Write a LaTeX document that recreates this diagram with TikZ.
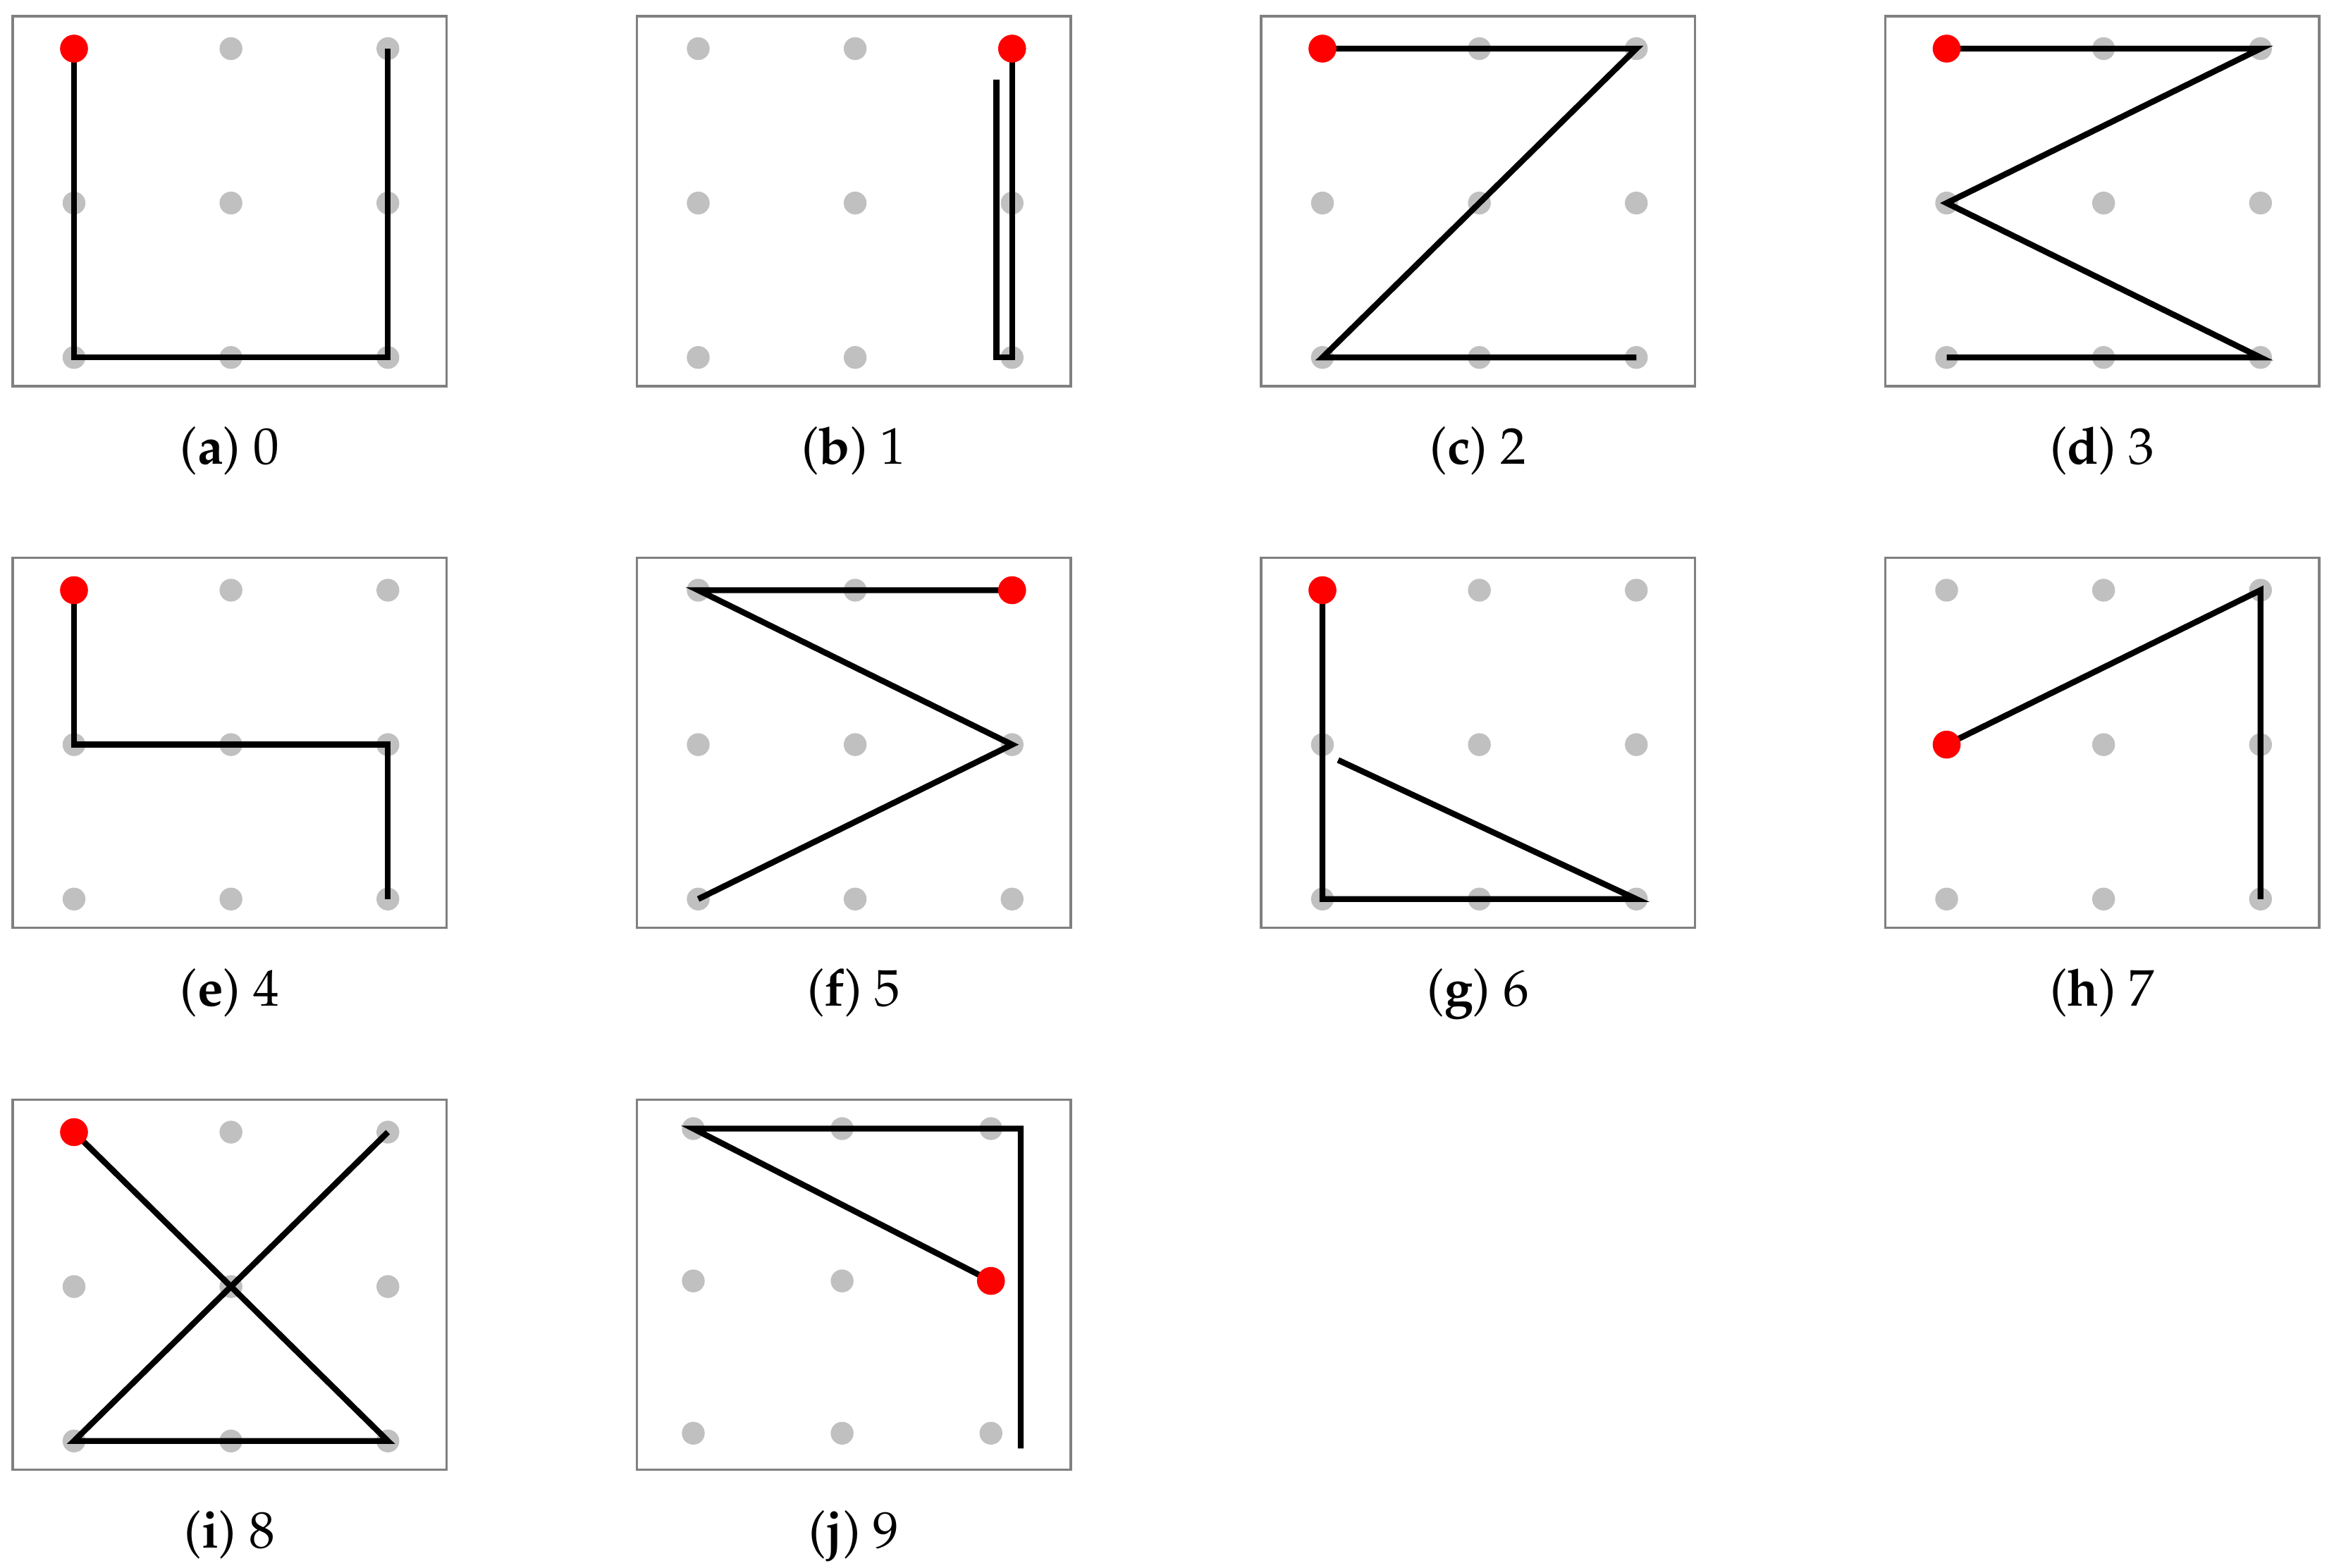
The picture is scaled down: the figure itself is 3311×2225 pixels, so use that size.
\documentclass[tikz,border=0pt]{standalone}
\usepackage[T1]{fontenc}
\usepackage{mathpazo}
\definecolor{dotgray}{RGB}{192,192,192}
\definecolor{framegray}{RGB}{128,128,128}
\tikzset{
  framebox/.style={draw=framegray, line width=0.036cm},
  stroke/.style={draw=black, line width=0.084cm, line join=miter, line cap=butt, miter limit=10},
  griddot/.style={fill=dotgray},
  startdot/.style={fill=red},
  caption/.style={anchor=base, inner sep=0pt, font=\fontsize{20.8}{25}\selectfont},
  stdgrid/.style={shift={(87,46)}, x=2.225cm, y=-2.19cm},
  jgrid/.style={shift={(80,41)}, x=2.11cm, y=-2.16cm}
}
% #1 grid style, #2 caption node name, #3 frame x, #4 frame y, #5 letter, #6 digit, #7 path, #8 start point
\newcommand{\gpanel}[8][stdgrid]{%
  \begin{scope}[shift={(#3,#4)}]
    \draw[framebox] (0,0) rectangle (615.5,525);
    \node[caption] (#2) at (307.75,636) {(\textbf{#5}) #6};
    \begin{scope}[#1]
      \foreach \i in {0,1,2} {\foreach \j in {0,1,2} {\fill[griddot] (\i,\j) circle[radius=0.162cm];}}
      \draw[stroke] #7;
      \fill[startdot] #8 circle[radius=0.198cm];
    \end{scope}
  \end{scope}}
\begin{document}
\begin{tikzpicture}[x=0.01cm,y=-0.01cm]
\useasboundingbox (0,0) rectangle (3311,2225);
\gpanel{capa}{18}{23}{a}{0}{(0,0)--(0,2)--(2,2)--(2,0)}{(0,0)}
\gpanel{capb}{903.5}{23}{b}{1}{(2,0)--(2,2)--(1.9,2)--(1.9,0.2)}{(2,0)}
\gpanel{capc}{1789}{23}{c}{2}{(0,0)--(2,0)--(0,2)--(2,2)}{(0,0)}
\gpanel{capd}{2674.5}{23}{d}{3}{(0,0)--(2,0)--(0,1)--(2,2)--(0,2)}{(0,0)}
\gpanel{cape}{18}{791.5}{e}{4}{(0,0)--(0,1)--(2,1)--(2,2)}{(0,0)}
\gpanel{capf}{903.5}{791.5}{f}{5}{(2,0)--(0,0)--(2,1)--(0,2)}{(2,0)}
\gpanel{capg}{1789}{791.5}{g}{6}{(0,0)--(0,2)--(2,2)--(0.1,1.1)}{(0,0)}
\gpanel{caph}{2674.5}{791.5}{h}{7}{(0,1)--(2,0)--(2,2)}{(0,1)}
\gpanel{capi}{18}{1560.5}{i}{8}{(0,0)--(2,2)--(0,2)--(2,0)}{(0,0)}
\gpanel[jgrid]{capj}{903.5}{1560.5}{j}{9}{(2,1)--(0,0)--(2.2,0)--(2.2,2.1)}{(2,1)}
\end{tikzpicture}
\end{document}
